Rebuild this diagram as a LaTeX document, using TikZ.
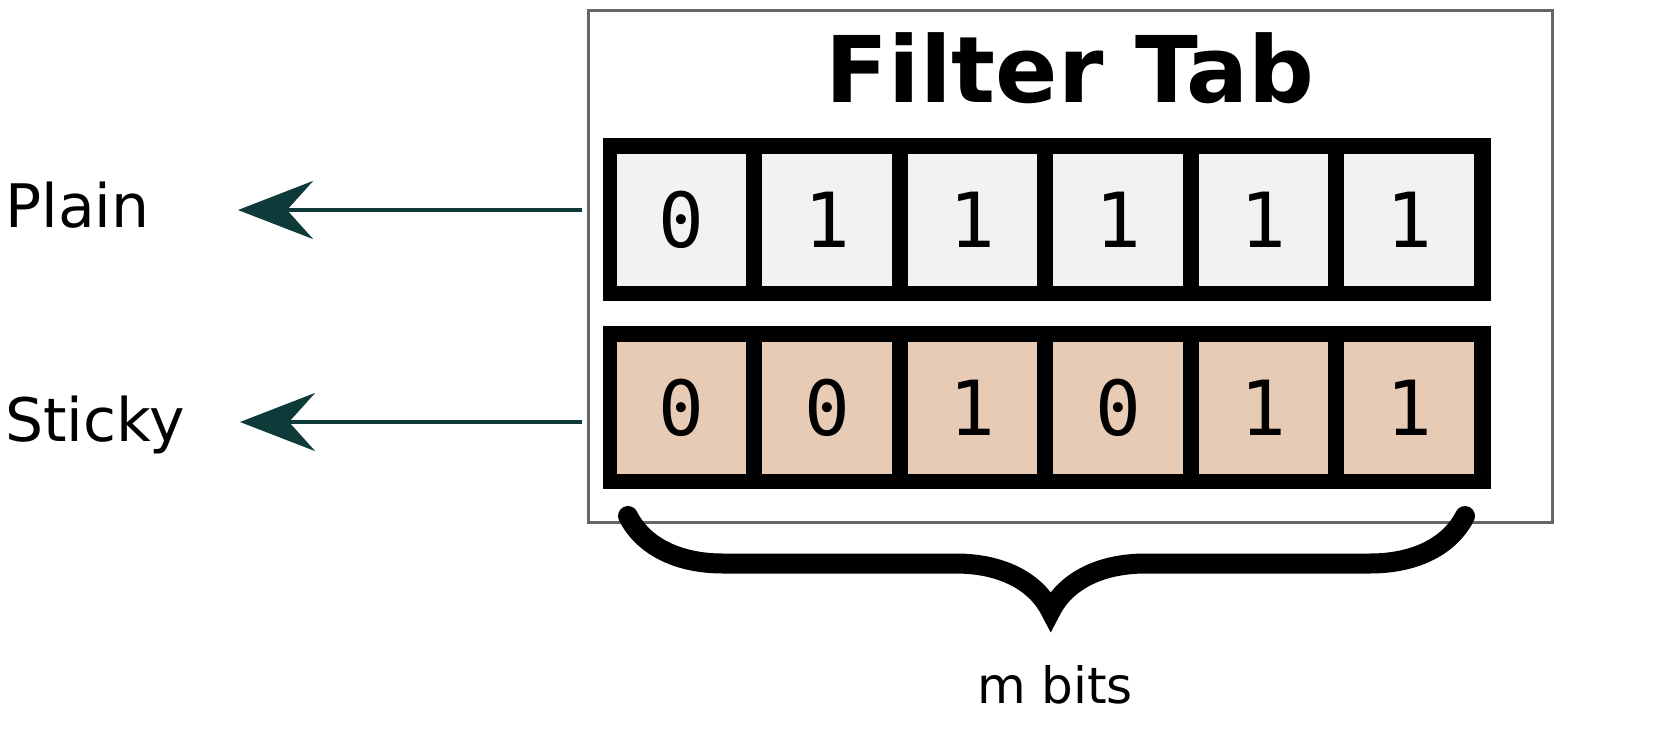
\documentclass[tikz,border=0pt]{standalone}
\usepackage{fontspec}
\setmainfont{DejaVu Sans}
\newfontfamily\monof{DejaVu Sans Mono}
\usetikzlibrary{arrows.meta,decorations.pathreplacing}
\definecolor{teal}{HTML}{0E3A3A}
\definecolor{rowa}{HTML}{F2F2F2}
\definecolor{rowb}{HTML}{E8CBB5}
\tikzset{
 cell/.style={draw=black,line width=8pt,minimum width=137.5pt,minimum height=140pt,inner sep=0pt,font=\monof\fontsize{76}{76}\selectfont},
 lab/.style={font=\fontsize{60}{60}\selectfont,anchor=west,inner sep=0pt},
 arr/.style={draw=teal,line width=4pt,-{Stealth[length=75pt,width=58pt,inset=26pt]}}
}
\begin{document}
\begin{tikzpicture}[x=1pt,y=-1pt]
\fill[white] (0,0) rectangle (1657,750);
\node[draw=black!60,line width=3pt,minimum width=964pt,minimum height=512pt,inner sep=0pt] (outer) at (1070,266) {};
\node[font=\bfseries\fontsize{92}{92}\selectfont] (title) at (1070,68) {Filter Tab};
\foreach \d [count=\i] in {0,1,1,1,1,1} {
  \node[cell,fill=rowa] (a\i) at ({536+145.5*\i},219.5) {\d};
}
\foreach \d [count=\i] in {0,0,1,0,1,1} {
  \node[cell,fill=rowb] (b\i) at ({536+145.5*\i},407.5) {\d};
}
\node[draw=black,line width=10pt,minimum width=878pt,minimum height=153pt] (r1) at (1047,219.5) {};
\node[draw=black,line width=10pt,minimum width=878pt,minimum height=153pt] (r2) at (1047,407.5) {};
\coordinate (p0) at (582,210);
\coordinate (s0) at (582,422);
\node[lab] (plain) at (5,205) {Plain};
\node[lab] (sticky) at (5,425) {Sticky};
\draw[arr] (p0) -- (238,210);
\draw[arr] (s0) -- (240,422);
\coordinate (br1) at (1465,516);
\coordinate (br2) at (628,516);
\draw[line width=20pt,line cap=round,decorate,decoration={brace,amplitude=95pt,aspect=0.495}] (br1) -- (br2);
\node[font=\fontsize{50}{50}\selectfont] (m) at (1055,685) {m bits};
\pgfresetboundingbox
\useasboundingbox (0,0) rectangle (1657,750);
\end{tikzpicture}
\end{document}
